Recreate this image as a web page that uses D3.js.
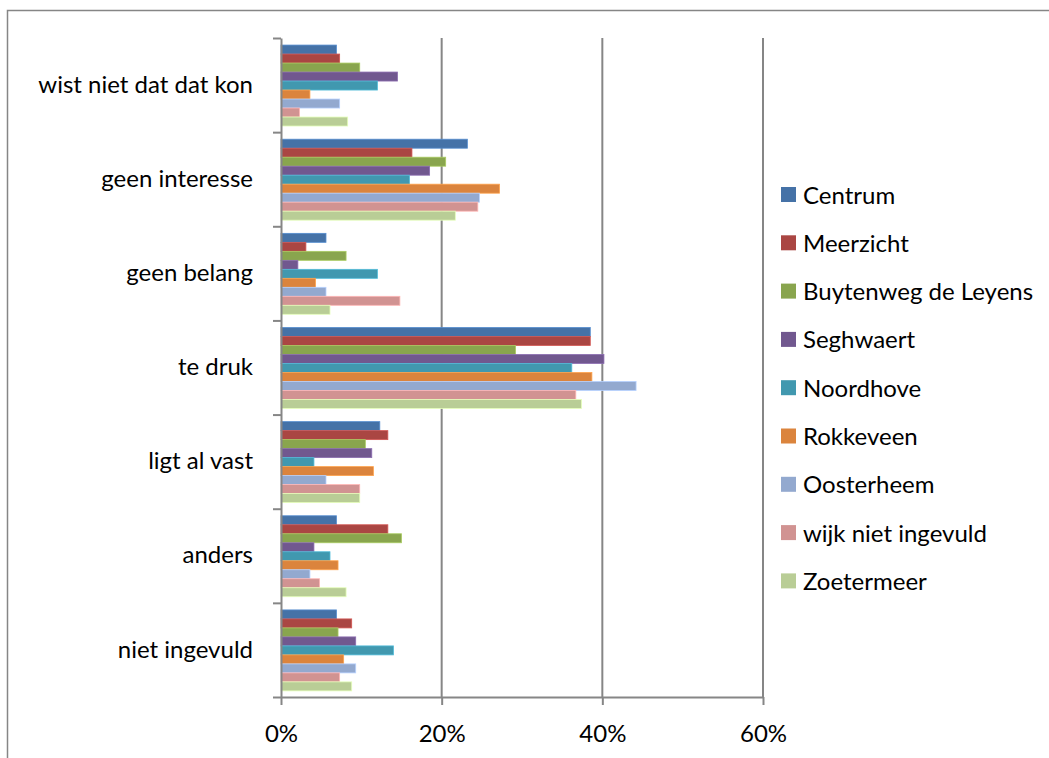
<!DOCTYPE html>
<html>
<head>
<meta charset="utf-8">
<script src="https://cdn.jsdelivr.net/npm/d3@7"></script>
<style>
  html, body { margin: 0; padding: 0; background: #fff; }
  svg { display: block; }
  text { font-family: Lato, "Open Sans", sans-serif; fill: #000; }
</style>
</head>
<body>
<svg id="chart" width="1049" height="758"></svg>
<script>
const categories = ["wist niet dat dat kon", "geen interesse", "geen belang", "te druk", "ligt al vast", "anders", "niet ingevuld"];
const seriesNames = ["Centrum", "Meerzicht", "Buytenweg de Leyens", "Seghwaert", "Noordhove", "Rokkeveen", "Oosterheem", "wijk niet ingevuld", "Zoetermeer"];
const centrum    = [6.9, 23.2, 5.6, 38.5, 12.3, 6.9, 6.9];
const meerzicht  = [7.3, 16.3, 3.1, 38.5, 13.3, 13.3, 8.8];
const buytenweg  = [9.8, 20.5, 8.1, 29.2, 10.5, 15.0, 7.1];
const seghwaert  = [14.5, 18.5, 2.1, 40.2, 11.3, 4.1, 9.3];
const noordhove  = [12.0, 16.0, 12.0, 36.2, 4.1, 6.1, 14.0];
const rokkeveen  = [3.6, 27.2, 4.3, 38.7, 11.5, 7.1, 7.8];
const oosterheem = [7.3, 24.7, 5.6, 44.2, 5.6, 3.6, 9.3];
const wijkNiet   = [2.3, 24.5, 14.8, 36.7, 9.8, 4.8, 7.3];
const zoetermeer = [8.3, 21.7, 6.1, 37.4, 9.8, 8.1, 8.8];
const xTicks = [0, 20, 40, 60];
const colors = ["#4572A7", "#AA4643", "#89A54E", "#71588F", "#4198AF", "#DB843D", "#93A9CF", "#D19392", "#B9CD96"];

const seriesValues = [centrum, meerzicht, buytenweg, seghwaert, noordhove, rokkeveen, oosterheem, wijkNiet, zoetermeer];
const series = seriesNames.map((name, i) => ({ name, values: seriesValues[i], color: colors[i] }));

const svg = d3.select("#chart");
const axisColor = "#868686";
const fontSize = 24;

// outer chart border
svg.append("rect")
  .attr("x", 7.5).attr("y", 10.5).attr("width", 1100).attr("height", 800)
  .attr("fill", "none").attr("stroke", axisColor).attr("stroke-width", 1.5);

const plot = { left: 281, right: 763, top: 38, bottom: 697 };

const x = d3.scaleLinear().domain([0, 60]).range([plot.left, plot.right]);
const y = d3.scaleBand().domain(categories).range([plot.top, plot.bottom]).paddingInner(0).paddingOuter(0);
const inner = d3.scaleBand().domain(seriesNames)
  .range([y.bandwidth() * 0.075, y.bandwidth() * 0.935]).padding(0);

// gridlines
svg.append("g").selectAll("line")
  .data(xTicks.filter(d => d > 0))
  .join("line")
  .attr("x1", d => x(d)).attr("x2", d => x(d))
  .attr("y1", plot.top).attr("y2", plot.bottom)
  .attr("stroke", axisColor).attr("stroke-width", 2);

// bars
const groups = svg.append("g").selectAll("g")
  .data(series)
  .join("g")
  .attr("fill", d => d.color)
  .attr("stroke", d => d3.color(d.color).brighter(0.6))
  .attr("stroke-width", 0.8);

groups.selectAll("rect")
  .data(s => s.values.map((v, i) => ({ cat: categories[i], v, name: s.name })))
  .join("rect")
  .attr("x", x(0))
  .attr("y", d => y(d.cat) + inner(d.name))
  .attr("width", d => x(d.v) - x(0))
  .attr("height", inner.bandwidth());

// y axis (ticks at category boundaries)
const yEdge = d3.scaleLinear().domain([0, categories.length]).range([plot.top, plot.bottom]);
const yAxisG = svg.append("g")
  .attr("transform", `translate(${plot.left},0)`)
  .call(d3.axisLeft(yEdge).tickValues(d3.range(0, categories.length + 1)).tickFormat("").tickSize(8).tickSizeOuter(0));
yAxisG.selectAll("path, line").attr("stroke", axisColor).attr("stroke-width", 2);

// category labels
svg.append("g").selectAll("text")
  .data(categories)
  .join("text")
  .attr("x", 253)
  .attr("y", d => y(d) + y.bandwidth() / 2)
  .attr("dy", "0.32em")
  .attr("text-anchor", "end")
  .attr("font-size", fontSize)
  .text(d => d);

// x axis
const xAxisG = svg.append("g")
  .attr("transform", `translate(0,${plot.bottom})`)
  .call(d3.axisBottom(x).tickValues(xTicks).tickFormat(d => d + "%").tickSize(8).tickSizeOuter(0));
xAxisG.selectAll("path, line").attr("stroke", axisColor).attr("stroke-width", 2);
xAxisG.selectAll("text")
  .attr("font-size", fontSize)
  .attr("font-family", "Lato, sans-serif")
  .attr("fill", "#000")
  .attr("y", 27.5)
  .attr("dy", "0.71em");

// legend
const legend = svg.append("g").selectAll("g")
  .data(series)
  .join("g")
  .attr("transform", (d, i) => `translate(781,${187 + i * 48.3})`);
legend.append("rect")
  .attr("width", 15).attr("height", 15)
  .attr("fill", d => d.color);
legend.append("text")
  .attr("x", 22).attr("y", 16.5)
  .attr("font-size", fontSize)
  .text(d => d.name);
</script>
</body>
</html>
